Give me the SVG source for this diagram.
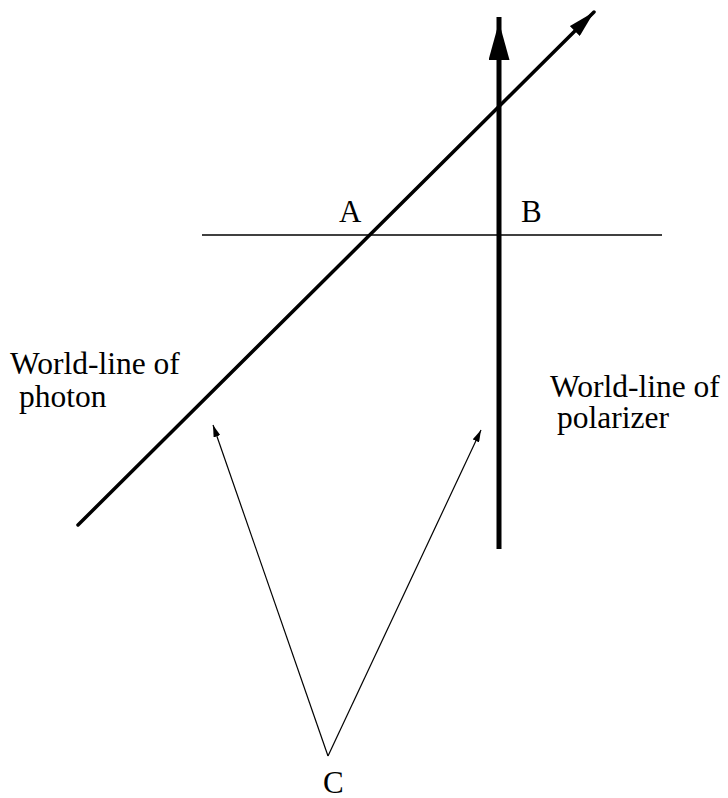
<svg xmlns="http://www.w3.org/2000/svg" width="728" height="798" viewBox="0 0 728 798">
  <style>
    .lbl { font-family: "Liberation Serif", "Times New Roman", serif; font-size: 31px; fill: #000; }
    .big { font-size: 31.5px; }
    .thick { stroke: #000; stroke-width: 5; fill: none; }
    .med { stroke: #000; stroke-width: 3.5; fill: none; stroke-linecap: round; }
    .thin { stroke: #000; stroke-width: 1.2; fill: none; }
  </style>
  <defs>
    <marker id="headV" markerUnits="userSpaceOnUse" viewBox="0 0 43 21" refX="43" refY="10.5" markerWidth="43" markerHeight="21" orient="auto">
      <path d="M0,0 L38,10.5 L0,21 z" fill="#000"/>
    </marker>
    <marker id="headD" markerUnits="userSpaceOnUse" viewBox="0 0 27 14" refX="27" refY="7" markerWidth="27" markerHeight="14" orient="auto">
      <path d="M0,0 L27,7 L0,14 z" fill="#000"/>
    </marker>
    <marker id="headT" markerUnits="userSpaceOnUse" viewBox="0 0 12 7" refX="12" refY="3.5" markerWidth="12" markerHeight="7" orient="auto">
      <path d="M0,0 L12,3.5 L0,7 z" fill="#000"/>
    </marker>
  </defs>
  <rect width="728" height="798" fill="#fff"/>
  <g id="connectors">
    <line id="simultaneity" x1="202" y1="235" x2="662" y2="235" stroke="#000" stroke-width="1.3"/>
    <line id="polarizer-line" class="thick" x1="499" y1="549" x2="499" y2="17" marker-end="url(#headV)"/>
    <line id="photon-line" class="med" x1="78" y1="525" x2="594" y2="12" marker-end="url(#headD)"/>
    <line id="c-to-photon" class="thin" x1="328" y1="756" x2="213" y2="425" marker-end="url(#headT)"/>
    <line id="c-to-polarizer" class="thin" x1="328" y1="756" x2="481" y2="430" marker-end="url(#headT)"/>
  </g>
  <g id="node-A"><text class="lbl" x="339" y="222">A</text></g>
  <g id="node-B"><text class="lbl" x="521" y="222">B</text></g>
  <g id="node-C"><text class="lbl" x="323" y="793">C</text></g>
  <g id="label-photon">
    <text class="lbl big" x="10" y="374">World-line of</text>
    <text class="lbl big" x="19" y="407">photon</text>
  </g>
  <g id="label-polarizer">
    <text class="lbl big" x="550" y="397">World-line of</text>
    <text class="lbl big" x="557" y="428">polarizer</text>
  </g>
</svg>
